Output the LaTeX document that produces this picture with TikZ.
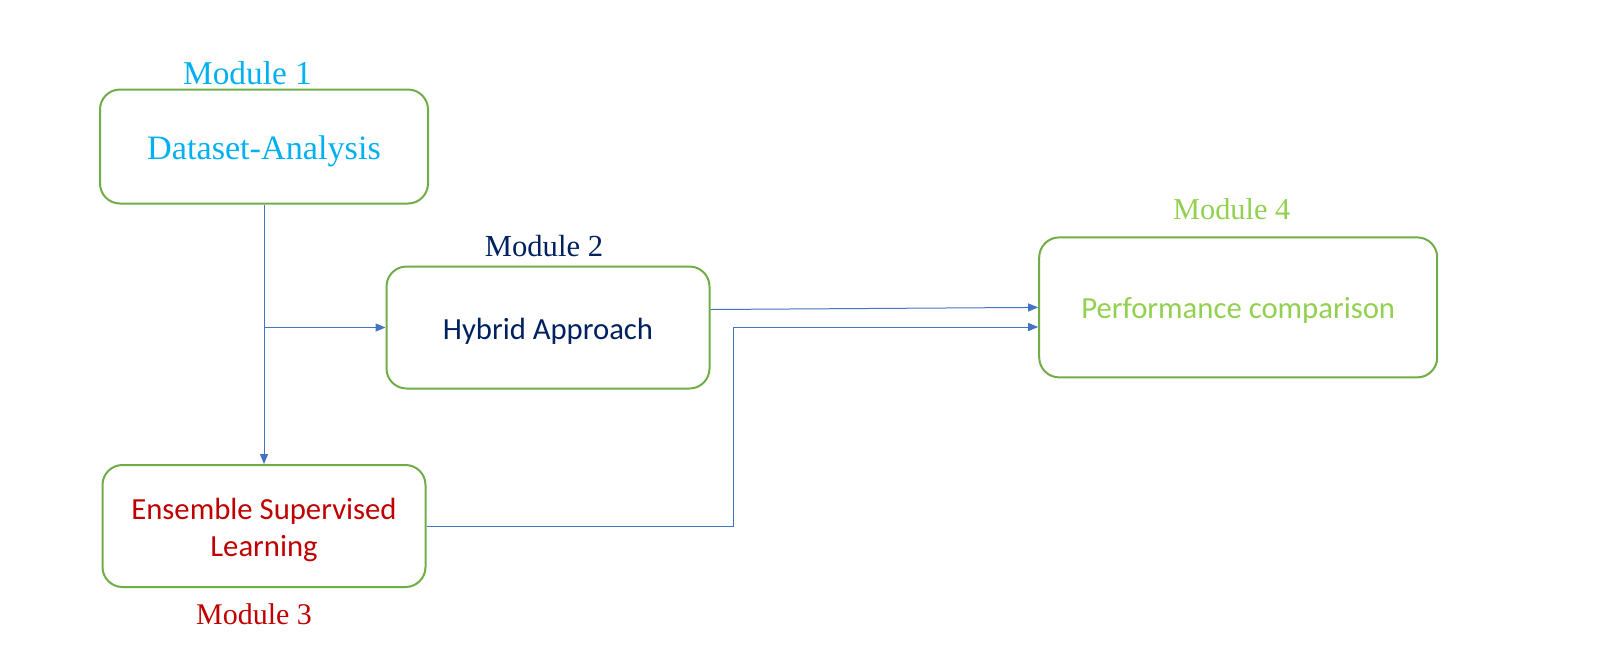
\documentclass[tikz,border=0pt]{standalone}
\usepackage{fontspec}
\setmainfont{Liberation Serif}
\newfontfamily\calib{Carlito}
\usetikzlibrary{arrows.meta,calc}
\definecolor{mcyan}{HTML}{00B0F0}
\definecolor{mnavy}{HTML}{002060}
\definecolor{mred}{HTML}{C00000}
\definecolor{mlgreen}{HTML}{92D050}
\definecolor{mborder}{HTML}{70AD47}
\definecolor{mblue}{HTML}{4472C4}
\newcommand\lowtext[2]{\raisebox{-#1}[\height][\depth]{#2}}
\begin{document}
\begin{tikzpicture}[x=1pt,y=-1pt,
  modbox/.style={draw=mborder,line width=2pt,rounded corners=20pt,inner sep=0pt,align=center},
  modlabel/.style={inner sep=0pt,anchor=base},
  boxtext/.style={font=\calib\fontsize{30.7}{36.7}\selectfont},
  conn/.style={draw=mblue,line width=1pt,-{Triangle[length=10pt,width=8pt]}}]
\useasboundingbox (0,0) rectangle (1612,657);
\node[modbox,minimum width=328pt,minimum height=114pt,font=\fontsize{34.2}{40}\selectfont,text=mcyan] (box1) at (264,146.5) {\lowtext{5pt}{Dataset-Analysis}};
\node[modbox,minimum width=323pt,minimum height=122pt,boxtext,text=mnavy] (box2) at (548,327.5) {\lowtext{4.1pt}{Hybrid Approach}};
\node[modbox,minimum width=323pt,minimum height=122pt,boxtext,text=mred] (box3) at (264,526) {\lowtext{4.6pt}{\begin{tabular}{@{}c@{}}Ensemble Supervised\\Learning\end{tabular}}};
\node[modbox,minimum width=398pt,minimum height=140pt,boxtext,text=mlgreen] (box4) at (1238.2,307.4) {\lowtext{3.1pt}{Performance comparison}};
\node[modlabel,font=\fontsize{33.3}{38}\selectfont,text=mcyan] (l1) at (247.5,84) {Module 1};
\node[modlabel,font=\fontsize{30.6}{36}\selectfont,text=mnavy] (l2) at (544,256) {Module 2};
\node[modlabel,font=\fontsize{30}{36}\selectfont,text=mred] (l3) at (254,624.5) {Module 3};
\node[modlabel,font=\fontsize{30.3}{36}\selectfont,text=mlgreen] (l4) at (1231.7,219) {Module 4};
\draw[conn] (box1.south) -- (box3.north);
\coordinate (j) at (box1.south |- box2.west);
\draw[conn] (j) -- (box2.west);
\coordinate (a2) at ($(box2.east)+(0,-18)$);
\draw[conn] (a2) -- (box4.west);
\coordinate (b4) at ($(box4.west)+(0,19.6)$);
\coordinate (k1) at (733,526);
\coordinate (k2) at (733,327);
\draw[conn] (box3.east) -- (k1) -- (k2) -- (b4);
\end{tikzpicture}
\end{document}
